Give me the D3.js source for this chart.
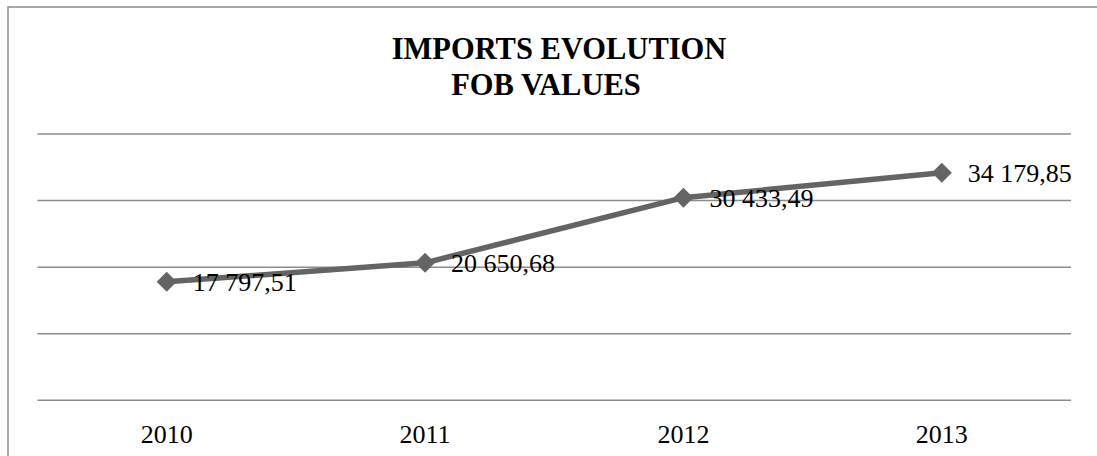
<!DOCTYPE html>
<html>
<head>
<meta charset="utf-8">
<script src="https://cdn.jsdelivr.net/npm/d3@7"></script>
<style>
  html, body { margin: 0; padding: 0; background: #ffffff; }
  svg { display: block; }
</style>
</head>
<body>
<svg id="chart" width="1097" height="456"></svg>
<script>
// Imports, FOB values by year
const years = ["2010", "2011", "2012", "2013"];
const fobValues = [17797.51, 20650.68, 30433.49, 34179.85];
const valueLabels = ["17 797,51", "20 650,68", "30 433,49", "34 179,85"];
const gridTicks = [0, 10000, 20000, 30000, 40000];
const titleLines = ["IMPORTS EVOLUTION", "FOB VALUES"];

const svg = d3.select("#chart");
const font = "'Liberation Serif', 'Times New Roman', serif";
const lineColor = "#646464";
const gridColor = "#8c8c8c";

// chart frame (runs past the right and bottom edges)
svg.append("rect")
  .attr("x", 8).attr("y", 7)
  .attr("width", 1300).attr("height", 700)
  .attr("fill", "#fff")
  .attr("stroke", gridColor)
  .attr("stroke-width", 1.5);

const plot = { left: 37.5, right: 1071, top: 134, bottom: 400.3 };

const x = d3.scaleBand()
  .domain(years)
  .range([plot.left, plot.right]);

const y = d3.scaleLinear()
  .domain([0, 40000])
  .range([plot.bottom, plot.top]);

// horizontal gridlines
svg.append("g")
  .selectAll("line")
  .data(gridTicks)
  .join("line")
  .attr("x1", plot.left).attr("x2", plot.right)
  .attr("y1", d => y(d)).attr("y2", d => y(d))
  .attr("stroke", gridColor)
  .attr("stroke-width", 1.5);

// category axis labels
const xAxis = d3.axisBottom(x).tickSize(0).tickPadding(0);
const gx = svg.append("g")
  .attr("transform", `translate(0,${plot.bottom})`)
  .call(xAxis);
gx.select(".domain").remove();
gx.selectAll("text")
  .attr("y", 43)
  .attr("dy", 0)
  .attr("font-family", font)
  .attr("font-size", 26)
  .attr("fill", "#000");

const data = years.map((yr, i) => ({ yr, v: fobValues[i], label: valueLabels[i] }));
const cx = d => x(d.yr) + x.bandwidth() / 2;

// series line
svg.append("path")
  .datum(data)
  .attr("fill", "none")
  .attr("stroke", lineColor)
  .attr("stroke-width", 5.5)
  .attr("stroke-linejoin", "round")
  .attr("d", d3.line().x(cx).y(d => y(d.v)));

// diamond markers (rotated squares)
svg.append("g")
  .selectAll("path")
  .data(data)
  .join("path")
  .attr("transform", d => `translate(${cx(d)},${y(d.v)}) rotate(45)`)
  .attr("d", d3.symbol().type(d3.symbolSquare).size(200))
  .attr("fill", lineColor);

// value labels
svg.append("g")
  .selectAll("text")
  .data(data)
  .join("text")
  .attr("x", d => cx(d) + 26)
  .attr("y", d => y(d.v) + 9)
  .attr("font-family", font)
  .attr("font-size", 26)
  .attr("fill", "#000")
  .text(d => d.label);

// title
const titleX = [559, 546];
const titleY = [58.5, 95];
svg.append("g")
  .selectAll("text")
  .data(titleLines)
  .join("text")
  .attr("x", (d, i) => titleX[i])
  .attr("y", (d, i) => titleY[i])
  .attr("text-anchor", "middle")
  .attr("font-family", font)
  .attr("font-weight", "bold")
  .attr("font-size", 30.5)
  .attr("fill", "#000")
  .text(d => d);
</script>
</body>
</html>
